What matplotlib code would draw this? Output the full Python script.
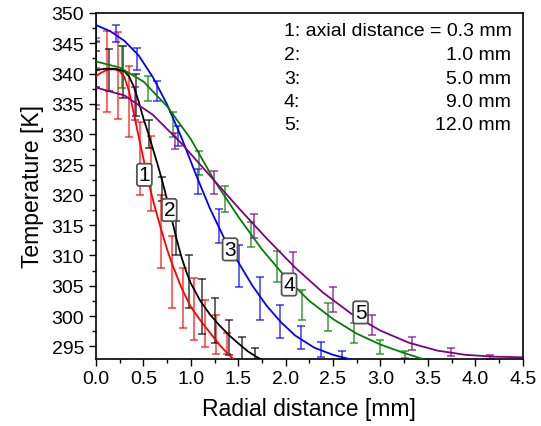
import matplotlib

matplotlib.use("Agg")

import matplotlib.pyplot as plt
from matplotlib.ticker import MultipleLocator

plt.rcParams["font.family"] = ["Liberation Sans", "DejaVu Sans"]

# --- measured points with error bars (x in mm, T in K, err in K) ---
x1 = [0.000, 0.115, 0.230, 0.345, 0.460, 0.575, 0.690, 0.805, 0.920, 1.035, 1.150, 1.265, 1.380]
t1 = [340.0, 340.3, 339.7, 335.4, 326.0, 323.5, 314.0, 307.3, 303.0, 301.1, 298.8, 297.0, 295.5]
e1 = [5.8, 6.7, 7.2, 5.9, 6.0, 6.2, 6.0, 5.9, 5.0, 5.1, 3.9, 3.2, 1.7]

x2 = [0.00, 0.14, 0.28, 0.42, 0.56, 0.70, 0.84, 0.98, 1.12, 1.26, 1.40, 1.54, 1.68]
t2 = [340.8, 340.6, 340.3, 336.5, 330.0, 321.0, 312.9, 305.7, 301.6, 299.2, 296.5, 294.5, 293.5]
e2 = [3.0, 3.5, 4.3, 3.5, 2.3, 2.0, 2.8, 4.3, 4.5, 3.7, 2.9, 2.0, 1.2]

x3 = [0.000, 0.216, 0.432, 0.648, 0.864, 1.080, 1.296, 1.512, 1.728, 1.944, 2.160, 2.376, 2.592]
t3 = [347.8, 346.6, 342.4, 337.1, 329.7, 322.2, 314.9, 308.3, 302.9, 299.1, 296.4, 294.5, 293.6]
e3 = [2.6, 1.4, 1.8, 1.65, 1.65, 2.1, 2.8, 3.5, 3.6, 2.8, 1.9, 1.2, 0.7]

x4 = [0.000, 0.272, 0.544, 0.816, 1.088, 1.360, 1.632, 1.904, 2.176, 2.448, 2.720, 2.992, 3.264]
t4 = [343.1, 341.1, 337.5, 331.6, 325.3, 319.3, 313.5, 308.2, 301.8, 299.9, 297.2, 294.9, 293.7]
e4 = [2.2, 3.4, 2.1, 2.0, 2.0, 2.1, 2.1, 2.5, 2.5, 2.3, 1.7, 1.1, 0.6]

x5 = [0.000, 0.416, 0.832, 1.248, 1.664, 2.080, 2.496, 2.912, 3.328, 3.744, 4.160]
t5 = [337.7, 335.1, 328.9, 322.1, 314.9, 308.3, 302.8, 298.5, 295.5, 294.0, 293.3]
e5 = [2.9, 2.7, 1.3, 1.9, 2.0, 2.35, 2.05, 1.65, 1.05, 0.65, 0.3]

# --- fitted profiles ---
fx1 = [0.00, 0.05, 0.10, 0.15, 0.20, 0.25, 0.30, 0.35, 0.40, 0.45, 0.50, 0.55, 0.60,
       0.65, 0.70, 0.75, 0.80, 0.90, 1.00, 1.10, 1.20, 1.30, 1.40, 1.45]
ft1 = [339.6, 340.1, 340.5, 340.7, 340.7, 340.4, 339.4, 337.0, 333.3, 329.6, 326.0, 322.4, 319.2,
       316.3, 313.6, 311.0, 308.7, 304.7, 301.5, 299.3, 297.3, 295.3, 293.6, 292.9]

fx2 = [0.00, 0.10, 0.20, 0.30, 0.35, 0.40, 0.45, 0.50, 0.55, 0.60, 0.65, 0.70, 0.75,
       0.80, 0.85, 0.90, 0.95, 1.00, 1.10, 1.20, 1.30, 1.40, 1.50, 1.60, 1.70, 1.75]
ft2 = [340.6, 340.8, 340.8, 340.4, 339.5, 337.8, 335.4, 332.6, 330.2, 327.6, 325.0, 322.2, 319.2,
       315.9, 312.7, 309.8, 307.4, 305.4, 302.5, 300.3, 298.5, 296.9, 295.5, 294.2, 293.2, 292.8]

fx3 = [0.00, 0.15, 0.30, 0.45, 0.60, 0.75, 0.90, 1.05, 1.20, 1.35, 1.50, 1.65, 1.80,
       1.95, 2.10, 2.30, 2.50, 2.70]
ft3 = [348.0, 347.0, 345.4, 343.0, 339.4, 334.9, 329.5, 323.5, 317.8, 312.9, 308.9, 305.0, 301.7,
       299.0, 296.8, 294.8, 293.6, 292.8]

fx4 = [0.00, 0.25, 0.50, 0.75, 1.00, 1.25, 1.50, 1.75, 2.00, 2.25, 2.50, 2.75, 3.00, 3.25, 3.45]
ft4 = [342.0, 341.0, 338.7, 334.6, 329.2, 322.3, 316.4, 311.0, 306.4, 302.5, 299.5, 297.1, 295.3,
       293.9, 292.9]

fx5 = [0.0, 0.3, 0.6, 0.9, 1.2, 1.5, 1.8, 2.1, 2.4, 2.7, 3.0, 3.3, 3.6, 3.9, 4.2, 4.5]
ft5 = [337.7, 336.4, 333.2, 328.5, 323.2, 317.9, 312.8, 308.0, 303.8, 300.3, 297.6, 295.6, 294.3,
       293.6, 293.3, 293.2]

colors = ["#ff0000", "#000000", "#0000ff", "#008000", "#800080"]
curve_ids = ["1", "2", "3", "4", "5"]
label_x = [0.51, 0.773, 1.414, 2.036, 2.79]
label_t = [323.3, 317.5, 311.0, 305.2, 300.6]

legend_ids = ["1:", "2:", "3:", "4:", "5:"]
legend_vals = ["axial distance = 0.3 mm", "1.0 mm", "5.0 mm", "9.0 mm", "12.0 mm"]

points = [(x1, t1, e1), (x2, t2, e2), (x3, t3, e3), (x4, t4, e4), (x5, t5, e5)]
fits = [(fx1, ft1), (fx2, ft2), (fx3, ft3), (fx4, ft4), (fx5, ft5)]

W, H = 541, 427
fig = plt.figure(figsize=(W / 100, H / 100), dpi=100)
ax = fig.add_axes([96 / W, 1 - 359.5 / H, 426.7 / W, 345.5 / H])

for (xs, ts, es), col in zip(points, colors):
    ax.errorbar(xs, ts, yerr=es, fmt="none", ecolor=col, elinewidth=1.2,
                capsize=3, capthick=1.2, alpha=0.7, zorder=2)

for (xs, ts), col in zip(fits, colors):
    ax.plot(xs, ts, color=col, lw=1.3, zorder=3)

for cid, lx, lt in zip(curve_ids, label_x, label_t):
    ax.text(lx, lt, cid, ha="center", va="center", fontsize=15, zorder=5,
            bbox=dict(boxstyle="round,pad=0.08,rounding_size=0.12",
                      fc="white", ec="#555555", lw=1.3))

ax.set_xlim(0, 4.5)
ax.set_ylim(293, 350)
ax.xaxis.set_major_locator(MultipleLocator(0.5))
ax.xaxis.set_minor_locator(MultipleLocator(0.25))
ax.yaxis.set_major_locator(MultipleLocator(5))
ax.yaxis.set_minor_locator(MultipleLocator(2.5))
ax.tick_params(which="both", direction="out", top=False, right=False, labelsize=14, pad=3.5)
ax.tick_params(which="major", length=5, width=1)
ax.tick_params(which="minor", length=3, width=1)
ax.xaxis.set_major_formatter(plt.FuncFormatter(lambda v, p: f"{v:.1f}"))
for sp in ax.spines.values():
    sp.set_linewidth(1.2)

ax.set_xlabel("Radial distance [mm]", fontsize=16.5, labelpad=7)
ax.set_ylabel("Temperature [K]", fontsize=16.5, labelpad=5)

# legend text block (top right)
for i, (lid, val) in enumerate(zip(legend_ids, legend_vals)):
    yy = 1 - (32 + 23.5 * i) / H
    if i == 0:
        fig.text(284 / W, yy, f"{lid} {val}", ha="left", va="center", fontsize=14)
    else:
        fig.text(284 / W, yy, lid, ha="left", va="center", fontsize=14)
        fig.text(511 / W, yy, val, ha="right", va="center", fontsize=14)

fig.savefig("out.png", dpi=100)
plt.close(fig)
